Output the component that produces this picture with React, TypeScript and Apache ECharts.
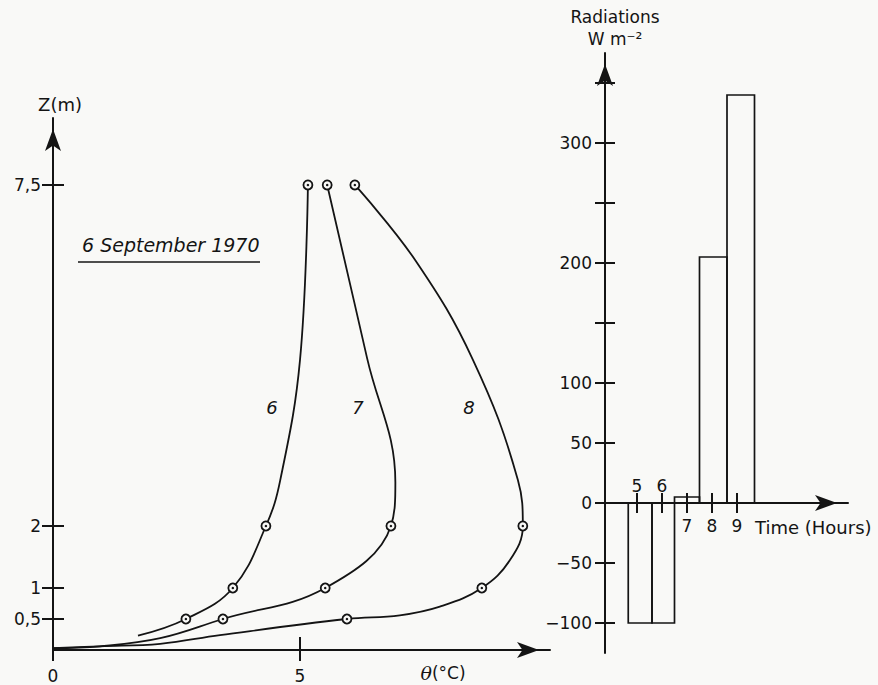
import React, { useEffect, useRef } from "react";
import * as echarts from "echarts";

// Potential temperature profiles θ (°C) against height Z (m), 6 September 1970
const profileHeights = [0.5, 1, 2, 7.5];
const thetaHour6 = [2.69, 3.64, 4.31, 5.16];
const thetaHour7 = [3.44, 5.51, 6.84, 5.55];
const thetaHour8 = [5.95, 8.68, 9.51, 6.11];

// Course of each drawn profile curve, as [θ, Z] pairs
const curveHour6 = [
  [1.72, 0.23], [2.69, 0.5], [3.64, 1], [4.31, 2], [4.6, 2.74], [5.0, 4.68], [5.16, 7.5],
];
const curveHour7 = [
  [0, 0.03], [0.95, 0.06], [2.17, 0.19], [3.44, 0.5], [5.51, 1], [6.84, 2],
  [6.93, 2.7], [6.36, 4.7], [5.55, 7.5],
];
const curveHour8 = [
  [0, 0.03], [0.95, 0.06], [2.17, 0.1], [3.38, 0.24], [5.95, 0.5], [7.02, 0.56],
  [7.83, 0.7], [8.68, 1], [9.25, 1.45], [9.51, 2], [9.41, 2.74],
  [8.5, 4.68], [7.33, 6.29], [6.11, 7.5],
];

const zTicks = [0.5, 1, 2, 7.5];
const thetaTicks = [0, 5];

// Net radiation (W m-2) per hourly interval
const hourTicks = [5, 6, 7, 8, 9];
const hourLabelsAbove = [5, 6];
const hourLabelsBelow = [7, 8, 9];
const intervalStart = [4.65, 5.6, 6.5, 7.5, 8.6];
const intervalEnd = [5.6, 6.5, 7.5, 8.6, 9.7];
const radiation = [-100, -100, 5, 205, 340];
const radiationTicks = [-100, -50, 0, 50, 100, 150, 200, 250, 300, 350];
const radiationLabels = [-100, -50, 0, 50, 100, 200, 300];

const INK = "#141414";
const PAPER = "#f9f9f7";
const FONT = "DejaVu Sans";

const arrowLine = (onZero: boolean) => ({
  show: true,
  onZero,
  symbol: ["none", "arrow"],
  symbolSize: [12, 22],
  symbolOffset: [0, -11],
  lineStyle: { color: INK, width: 2 },
});
const hiddenLine = (onZero: boolean) => ({
  show: true,
  onZero,
  lineStyle: { color: "rgba(0,0,0,0)", width: 0 },
});
const tickStyle = { color: INK, width: 2 };
const labelText = { color: INK, fontFamily: FONT, fontSize: 17 };
const comma = (v: number) => String(v).replace(".", ",");
const signed = (v: number) => (v < 0 ? "\u2212" + Math.abs(v) : String(v));

export default function App() {
  const ref = useRef<HTMLDivElement>(null);

  useEffect(() => {
    if (!ref.current) return;
    const chart = echarts.init(ref.current, null, { renderer: "svg" });

    const markers = (theta: number[]) => theta.map((t, i) => [t, profileHeights[i]]);
    const bars = intervalStart.map((s, i) => [s, intervalEnd[i], radiation[i]]);

    const curveSeries = (data: number[][]) => ({
      type: "line",
      xAxisIndex: 0,
      yAxisIndex: 0,
      data,
      smooth: 0.4,
      showSymbol: false,
      lineStyle: { color: INK, width: 1.8 },
      silent: true,
      z: 3,
    });
    const ringSeries = (theta: number[]) => ({
      type: "scatter",
      xAxisIndex: 0,
      yAxisIndex: 0,
      data: markers(theta),
      symbol: "circle",
      symbolSize: 9,
      itemStyle: { color: PAPER, borderColor: INK, borderWidth: 1.8, opacity: 1 },
      z: 4,
    });
    const dotSeries = (theta: number[]) => ({
      type: "scatter",
      xAxisIndex: 0,
      yAxisIndex: 0,
      data: markers(theta),
      symbol: "circle",
      symbolSize: 2.5,
      itemStyle: { color: INK, opacity: 1 },
      z: 5,
    });
    // Hour numbers sit on the zero line of the radiation axis
    const hourLabelSeries = (hours: number[], position: string, distance: number) => ({
      type: "scatter",
      xAxisIndex: 2,
      yAxisIndex: 2,
      data: hours.map((h) => [h, 0]),
      symbolSize: 0,
      silent: true,
      itemStyle: { opacity: 1 },
      label: {
        show: true,
        position,
        distance,
        opacity: 1,
        formatter: (p: any) => String(p.value[0]),
        ...labelText,
      },
      z: 6,
    });

    const option = {
      animation: false,
      backgroundColor: PAPER,
      grid: [
        { left: 53, right: 328, top: 118, bottom: 35, outerBoundsMode: "none", containLabel: false },
        { left: 605, right: 30, top: 53, bottom: 32, outerBoundsMode: "none", containLabel: false },
      ],
      xAxis: [
        {
          type: "value", gridIndex: 0, position: "bottom", min: 0, max: 10.06,
          axisLine: arrowLine(false), splitLine: { show: false },
          axisTick: { customValues: thetaTicks, length: 11, lineStyle: tickStyle },
          axisLabel: { customValues: thetaTicks, margin: 17, ...labelText },
        },
        {
          type: "value", gridIndex: 0, position: "bottom", min: 0, max: 10.06,
          axisLine: hiddenLine(false), splitLine: { show: false },
          axisTick: { customValues: [5], inside: true, length: 13, lineStyle: tickStyle },
          axisLabel: { show: false },
        },
        {
          type: "value", gridIndex: 1, position: "bottom", min: 3.72, max: 13.44,
          axisLine: arrowLine(true), splitLine: { show: false },
          axisTick: { customValues: hourTicks, length: 10, lineStyle: tickStyle },
          axisLabel: { show: false },
        },
        {
          type: "value", gridIndex: 1, position: "bottom", min: 3.72, max: 13.44,
          axisLine: hiddenLine(true), splitLine: { show: false },
          axisTick: { customValues: hourTicks, inside: true, length: 10, lineStyle: tickStyle },
          axisLabel: { show: false },
        },
      ],
      yAxis: [
        {
          type: "value", gridIndex: 0, position: "left", min: 0, max: 8.58,
          axisLine: arrowLine(false), splitLine: { show: false },
          axisTick: { customValues: zTicks, length: 11, lineStyle: tickStyle },
          axisLabel: { customValues: zTicks, margin: 12, formatter: comma, ...labelText },
          name: "Z(m)", nameLocation: "end", nameGap: 5,
          nameTextStyle: { color: INK, fontFamily: FONT, fontSize: 18, padding: [0, 0, 0, 14] },
        },
        {
          type: "value", gridIndex: 0, position: "left", min: 0, max: 8.58,
          axisLine: hiddenLine(false), splitLine: { show: false },
          axisTick: { customValues: zTicks, inside: true, length: 11, lineStyle: tickStyle },
          axisLabel: { show: false },
        },
        {
          type: "value", gridIndex: 1, position: "left", min: -125, max: 375,
          axisLine: arrowLine(false), splitLine: { show: false },
          axisTick: { customValues: radiationTicks, length: 10, lineStyle: tickStyle },
          axisLabel: { customValues: radiationLabels, margin: 13, formatter: signed, ...labelText },
          name: "Radiations\nW m\u207B\u00B2", nameLocation: "end", nameGap: 3,
          nameTextStyle: { color: INK, fontFamily: FONT, fontSize: 17, lineHeight: 22, padding: [0, 0, 0, 20] },
        },
        {
          type: "value", gridIndex: 1, position: "left", min: -125, max: 375,
          axisLine: hiddenLine(false), splitLine: { show: false },
          axisTick: { customValues: radiationTicks, inside: true, length: 10, lineStyle: tickStyle },
          axisLabel: { show: false },
        },
      ],
      series: [
        curveSeries(curveHour6),
        curveSeries(curveHour7),
        curveSeries(curveHour8),
        ringSeries(thetaHour6),
        ringSeries(thetaHour7),
        ringSeries(thetaHour8),
        dotSeries(thetaHour6),
        dotSeries(thetaHour7),
        dotSeries(thetaHour8),
        {
          type: "custom",
          xAxisIndex: 2,
          yAxisIndex: 2,
          data: bars,
          encode: { x: [0, 1], y: 2 },
          renderItem: (_params: any, api: any) => {
            const a = api.coord([api.value(0), 0]);
            const b = api.coord([api.value(1), api.value(2)]);
            return {
              type: "rect",
              shape: {
                x: a[0],
                y: Math.min(a[1], b[1]),
                width: b[0] - a[0],
                height: Math.abs(a[1] - b[1]),
              },
              style: { fill: "none", stroke: INK, lineWidth: 1.7 },
            };
          },
          z: 2,
        },
        hourLabelSeries(hourLabelsAbove, "top", 9),
        hourLabelSeries(hourLabelsBelow, "bottom", 14),
      ],
      graphic: [
        {
          type: "text", x: 82, y: 245,
          style: { text: "6 September 1970", fill: INK, font: `italic 19px "${FONT}"`, textVerticalAlign: "middle" },
        },
        { type: "line", shape: { x1: 78, y1: 262, x2: 260, y2: 262 }, style: { stroke: INK, lineWidth: 1.6 } },
        {
          type: "text", x: 272, y: 407,
          style: { text: "6", fill: INK, font: `italic 18px "${FONT}"`, textAlign: "center", textVerticalAlign: "middle" },
        },
        {
          type: "text", x: 358, y: 407,
          style: { text: "7", fill: INK, font: `italic 18px "${FONT}"`, textAlign: "center", textVerticalAlign: "middle" },
        },
        {
          type: "text", x: 469, y: 407,
          style: { text: "8", fill: INK, font: `italic 18px "${FONT}"`, textAlign: "center", textVerticalAlign: "middle" },
        },
        {
          type: "text", x: 443, y: 673,
          style: {
            text: "{t|\u03B8}{u|(\u00B0C)}",
            textAlign: "center", textVerticalAlign: "middle",
            rich: {
              t: { fill: INK, font: `italic 19px "DejaVu Serif"` },
              u: { fill: INK, font: `17px "${FONT}"` },
            },
          },
        },
        {
          type: "text", x: 755, y: 527,
          style: { text: "Time (Hours)", fill: INK, font: `18px "${FONT}"`, textVerticalAlign: "middle" },
        },
      ],
    };

    chart.setOption(option as any);
    return () => chart.dispose();
  }, []);

  return (
    <div
      ref={ref}
      style={{ position: "fixed", left: 0, top: 0, width: 878, height: 685, background: PAPER }}
    />
  );
}
